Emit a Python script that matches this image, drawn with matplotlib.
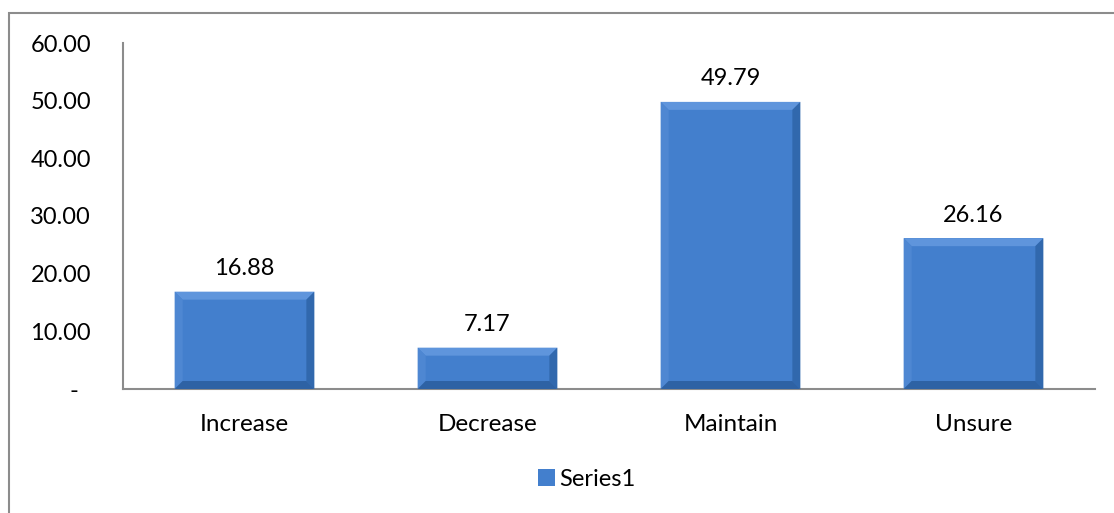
import numpy as np
import matplotlib.pyplot as plt
from matplotlib.patches import Polygon, Rectangle

plt.rcParams['font.family'] = ['Lato', 'DejaVu Sans']

categories = ['Increase', 'Decrease', 'Maintain', 'Unsure']
values = [16.88, 7.17, 49.79, 26.16]
yticks = [0, 10, 20, 30, 40, 50, 60]
ytick_labels = ['-  ', '10.00', '20.00', '30.00', '40.00', '50.00', '60.00']

fig = plt.figure(figsize=(11.14, 5.13), dpi=100)
ax = fig.add_axes([123/1114, 1 - 389/513, (1095 - 123)/1114, (389 - 43)/513])

# outer chart border (only top and left visible in the crop)
fig.add_artist(Rectangle((9/1114, -0.2), 1.2, 1.2 - 13/513, transform=fig.transFigure,
                         fill=False, edgecolor='#8c8c8c', linewidth=1.5))

x = np.arange(len(categories))
bars = ax.bar(x, values, width=0.575, color='#437fcd', edgecolor='none', zorder=2)

ax.set_xlim(-0.5, 3.5)
ax.set_ylim(0, 60)
ax.set_yticks(yticks)
ax.set_yticklabels(ytick_labels, fontsize=17)
ax.set_xticks(x)
ax.set_xticklabels(categories, fontsize=17.5)
ax.tick_params(axis='y', length=0, pad=23)
ax.tick_params(axis='x', length=0, pad=18)
for s in ['top', 'right']:
    ax.spines[s].set_visible(False)
for s in ['left', 'bottom']:
    ax.spines[s].set_color('#8c8c8c')
    ax.spines[s].set_linewidth(1.5)

fig.canvas.draw()
inv = ax.transData.inverted()
b = 8  # bevel size in pixels
for bar in bars:
    x0, y0 = ax.transData.transform((bar.get_x(), 0))
    x1, y1 = ax.transData.transform((bar.get_x() + bar.get_width(), bar.get_height()))
    pts = {
        'top': [(x0, y1), (x1, y1), (x1 - b, y1 - b), (x0 + b, y1 - b)],
        'left': [(x0, y0), (x0, y1), (x0 + b, y1 - b), (x0 + b, y0 + b)],
        'right': [(x1, y0), (x1, y1), (x1 - b, y1 - b), (x1 - b, y0 + b)],
        'bottom': [(x0, y0), (x1, y0), (x1 - b, y0 + b), (x0 + b, y0 + b)],
    }
    cols = {'top': '#5f95dc', 'left': '#4e87d2', 'right': '#3168ad', 'bottom': '#2e62a4'}
    for k, p in pts.items():
        ax.add_patch(Polygon(inv.transform(p), closed=True, facecolor=cols[k],
                             edgecolor='none', zorder=3))
    ax.annotate('%.2f' % bar.get_height(), (bar.get_x() + bar.get_width() / 2, bar.get_height()),
                xytext=(0, 9), textcoords='offset points', ha='center', va='bottom', fontsize=17)

leg = fig.legend([bars[0]], ['Series1'], loc='center', bbox_to_anchor=(587/1114, 1 - 479/513),
                 frameon=False, fontsize=17, handlelength=0.7, handleheight=0.7, handletextpad=0.2)

fig.savefig('out.png', dpi=100)
